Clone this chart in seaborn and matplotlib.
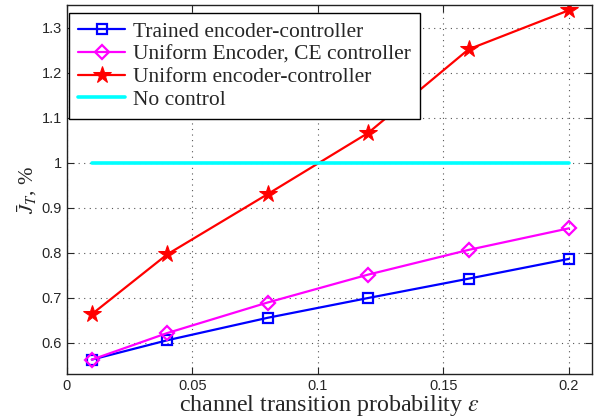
import pandas as pd
import seaborn as sns
import matplotlib.pyplot as plt

# channel transition probability
eps = [0.01, 0.04, 0.08, 0.12, 0.16, 0.2]
trained = [0.562, 0.605, 0.655, 0.699, 0.742, 0.786]
uniform_ce = [0.562, 0.621, 0.689, 0.751, 0.806, 0.854]
uniform = [0.663, 0.796, 0.930, 1.066, 1.252, 1.339]
no_control = [1.0, 1.0, 1.0, 1.0, 1.0, 1.0]

labels = ['Trained encoder-controller', 'Uniform Encoder, CE controller',
          'Uniform encoder-controller', 'No control']

sns.set_style('ticks')
plt.rcParams['mathtext.fontset'] = 'stix'

fig = plt.figure(figsize=(5.94, 4.2), dpi=100)
ax = fig.add_axes([0.1123, 0.1095, 0.885, 0.878])

sns.lineplot(x=eps, y=trained, ax=ax, color='#0000ff', marker='s', ms=7,
             mfc='none', mec='#0000ff', mew=1.6, lw=1.6, label=labels[0])
sns.lineplot(x=eps, y=uniform_ce, ax=ax, color='#ff00ff', marker='D', ms=7,
             mfc='none', mec='#ff00ff', mew=1.6, lw=1.6, label=labels[1])
sns.lineplot(x=eps, y=uniform, ax=ax, color='#ff0000', marker='*', ms=13,
             mec='#ff0000', lw=1.6, label=labels[2])
sns.lineplot(x=eps, y=no_control, ax=ax, color='#00ffff', lw=2.6, label=labels[3])

ax.set_xlim(0, 0.2093)
ax.set_ylim(0.53, 1.35)
ax.set_xticks([0, 0.05, 0.1, 0.15, 0.2])
ax.set_xticklabels(['0', '0.05', '0.1', '0.15', '0.2'])
ax.set_yticks([0.6, 0.7, 0.8, 0.9, 1.0, 1.1, 1.2, 1.3])
ax.set_yticklabels(['0.6', '0.7', '0.8', '0.9', '1', '1.1', '1.2', '1.3'])
ax.grid(True, linestyle=(0, (1, 4)), color='#555555', lw=0.8)
ax.tick_params(direction='in', top=True, right=True, length=5, width=0.8,
               labelsize=10.5)
for lab in ax.get_xticklabels() + ax.get_yticklabels():
    lab.set_family('Liberation Sans')
for s in ax.spines.values():
    s.set_linewidth(1.0)
    s.set_color('#222222')

ax.set_xlabel(r'channel transition probability $\varepsilon$',
              family='Liberation Serif', fontsize=17.3, labelpad=0)
ax.set_ylabel(r'$\bar{J}_T$, %', family='Liberation Serif', fontsize=15,
              labelpad=2)

leg = ax.legend(loc='upper left', bbox_to_anchor=(0.0044, 0.98),
                prop={'family': 'Liberation Serif', 'size': 15.5},
                frameon=True, fancybox=False, edgecolor='black', framealpha=1,
                handlelength=2.2, borderpad=0.42, labelspacing=0.12,
                borderaxespad=0, handletextpad=0.35)
leg.get_frame().set_linewidth(1.0)

fig.savefig('out.png', dpi=100)
